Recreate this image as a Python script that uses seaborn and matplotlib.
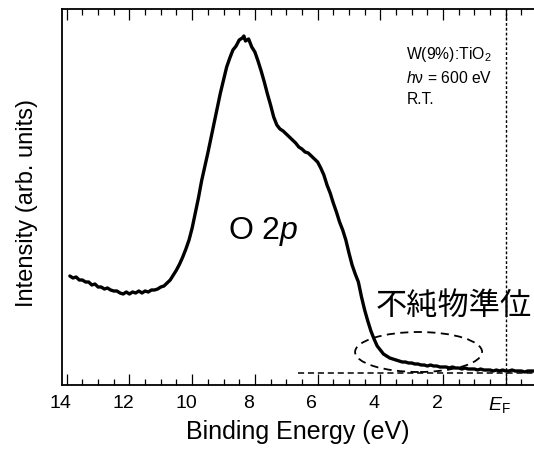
import numpy as np
import pandas as pd
import matplotlib
matplotlib.use("Agg")
import matplotlib.pyplot as plt
import matplotlib.transforms as mtransforms
from matplotlib.patches import Ellipse
from matplotlib.ticker import MultipleLocator, FixedLocator, FixedFormatter
import seaborn as sns

# ---- data ----
binding_energy = [
    13.9, 13.8, 13.7, 13.6, 13.5, 13.4, 13.3, 13.2, 13.1, 13.0,
    12.9, 12.8, 12.7, 12.6, 12.5, 12.4, 12.3, 12.2, 12.1, 12.0,
    11.9, 11.8, 11.7, 11.6, 11.5, 11.4, 11.3, 11.2, 11.1, 11.0,
    10.9, 10.8, 10.7, 10.6, 10.5, 10.4, 10.3, 10.2, 10.1, 10.0,
    9.9, 9.8, 9.7, 9.6, 9.5, 9.4, 9.3, 9.2, 9.1, 9.0,
    8.9, 8.8, 8.7, 8.6, 8.5, 8.4, 8.35, 8.3, 8.2, 8.1,
    8.0, 7.9, 7.8, 7.7, 7.6, 7.5, 7.4, 7.3, 7.2, 7.1,
    7.0, 6.9, 6.8, 6.7, 6.6, 6.5, 6.4, 6.3, 6.2, 6.1,
    6.0, 5.9, 5.8, 5.7, 5.6, 5.5, 5.4, 5.3, 5.2, 5.1,
    5.0, 4.9, 4.8, 4.7, 4.6, 4.5, 4.4, 4.3, 4.2, 4.1,
    4.0, 3.9, 3.8, 3.7, 3.6, 3.5, 3.4, 3.3, 3.2, 3.1,
    3.0, 2.9, 2.8, 2.7, 2.6, 2.5, 2.4, 2.3, 2.2, 2.1,
    2.0, 1.9, 1.8, 1.7, 1.6, 1.5, 1.4, 1.3, 1.2, 1.1,
    1.0, 0.9, 0.8, 0.7, 0.6, 0.5, 0.4, 0.3, 0.2, 0.1,
    0.0, -0.1, -0.2, -0.3, -0.4, -0.5, -0.6, -0.7, -0.8, -0.9,
]
intensity = [
    109, 107, 108, 105, 105, 103, 103, 100, 101, 98,
    98, 96, 97, 95, 94, 94, 92, 91, 93, 91,
    93, 92, 94, 92, 94, 93, 95, 95, 96, 98,
    99, 102, 105, 110, 115, 121, 128, 136, 145, 157,
    172, 187, 204, 218, 232, 247, 262, 277, 292, 305,
    318, 327, 335, 339, 345, 347, 349, 344, 346, 338,
    333, 324, 314, 303, 291, 280, 268, 260, 256, 254,
    251, 248, 245, 242, 238, 236, 233, 232, 229, 226,
    223, 217, 210, 200, 192, 182, 173, 163, 155, 145,
    132, 120, 111, 103, 88, 75, 64, 54, 46, 39,
    35, 31, 29, 27, 26, 25, 24, 23, 23, 22,
    22, 21, 21, 20, 20, 19, 20, 19, 19, 18,
    18, 18, 17, 18, 17, 17, 16, 17, 16, 16,
    16, 15, 16, 15, 15, 15, 14, 15, 14, 15,
    14, 14, 15, 14, 14, 14, 13, 14, 14, 14,
]

major_ticks = [14, 12, 10, 8, 6, 4, 2, 0]
major_labels = ["14", "12", "10", "8", "6", "4", "2", r"$E_\mathrm{F}$"]

sample_label = "W(9%):TiO$_2$"
photon_label = "$h$ν = 600 eV"
temp_label = "R.T."
peak_label = "O 2$p$"
impurity_label = "不純物準位"

# ---- style ----
sns.set_theme(style="ticks")
plt.rcParams["font.family"] = ["Liberation Sans", "Noto Sans CJK JP", "DejaVu Sans"]
plt.rcParams["mathtext.fontset"] = "custom"
plt.rcParams["mathtext.rm"] = "Liberation Sans"
plt.rcParams["mathtext.it"] = "Liberation Sans:italic"
plt.rcParams["mathtext.bf"] = "Liberation Sans:bold"
plt.rcParams["text.color"] = "black"
plt.rcParams["axes.labelcolor"] = "black"
plt.rcParams["xtick.color"] = "black"
plt.rcParams["ytick.color"] = "black"

fig = plt.figure(figsize=(5.34, 4.5), dpi=100)
W, H = 534, 450
left_px, right_px, top_px, bottom_px = 61.7, 534, 9, 385
ax = fig.add_axes([left_px / W, 1 - bottom_px / H,
                   (right_px - left_px) / W, (bottom_px - top_px) / H])

df = pd.DataFrame({"be": binding_energy, "I": intensity})
sns.lineplot(data=df, x="be", y="I", ax=ax, color="black", lw=2.4,
             sort=False, estimator=None)

ax.set_xlim(14.16, -0.90)
ax.set_ylim(0, 376)

# reference lines
ax.axvline(0, color="black", lw=1.0, ls=(0, (2, 1.5)))
ax.plot([6.63, -0.9], [12, 12], color="black", lw=1.1, ls=(0, (4, 2.5)))
ax.add_patch(Ellipse((2.78, 33), 4.05, 40, fill=False, ec="black",
                     lw=1.3, ls=(0, (4.5, 3))))

# ticks
ax.xaxis.set_major_locator(FixedLocator(major_ticks))
ax.xaxis.set_major_formatter(FixedFormatter(major_labels))
ax.xaxis.set_minor_locator(MultipleLocator(0.5))
ax.tick_params(axis="x", which="major", direction="in", length=8, width=0.9,
               top=True, labelsize=14, pad=7, colors="black")
ax.tick_params(axis="x", which="minor", direction="in", length=4.3, width=0.9,
               top=True)
ax.set_yticks([])
offset = mtransforms.ScaledTranslation(-6 / 100, 0, fig.dpi_scale_trans)
for lab in ax.get_xticklabels():
    lab.set_transform(lab.get_transform() + offset)

for s in ["left", "bottom", "top"]:
    ax.spines[s].set_linewidth(1.3)
    ax.spines[s].set_color("black")
ax.spines["right"].set_visible(False)

ax.set_xlabel("Binding Energy (eV)", fontsize=18, labelpad=4, color="black")
ax.set_ylabel("Intensity (arb. units)", fontsize=17, color="black")
ax.yaxis.set_label_coords((38 - left_px) / (right_px - left_px), (385 - 203) / 376)

# annotations
ax.text(8.85, 385 - 232, peak_label, fontsize=23, va="center", ha="left", color="black")
ax.text(4.15, 385 - 306, impurity_label, fontsize=22.5, va="center", ha="left",
        family=["Noto Sans CJK JP", "DejaVu Sans"], color="black")
ax.text(3.17, 385 - 55, sample_label, fontsize=11.3, va="center", ha="left", color="black")
ax.text(3.17, 385 - 78, photon_label, fontsize=11.3, va="center", ha="left", color="black")
ax.text(3.17, 385 - 100, temp_label, fontsize=11.3, va="center", ha="left", color="black")

fig.savefig("out.png", dpi=100)
